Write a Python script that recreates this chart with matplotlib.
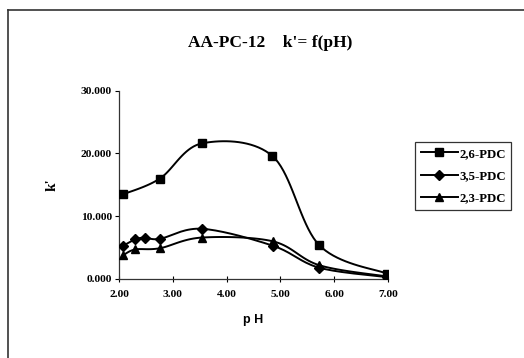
import matplotlib
matplotlib.use('Agg')
import matplotlib.pyplot as plt
import numpy as np
from matplotlib.lines import Line2D

# data
ph_26 = [2.08, 2.76, 3.54, 4.85, 5.72, 6.98]
k_26 = [13.5, 16.0, 21.6, 19.6, 5.4, 0.85]

ph_35 = [2.08, 2.30, 2.48, 2.76, 3.54, 4.86, 5.72, 6.98]
k_35 = [5.3, 6.3, 6.6, 6.4, 8.0, 5.3, 1.8, 0.3]

ph_23 = [2.08, 2.30, 2.76, 3.54, 4.86, 5.72, 6.98]
k_23 = [3.8, 4.7, 4.9, 6.6, 6.0, 2.2, 0.4]

labels = ['2,6-PDC', '3,5-PDC', '2,3-PDC']
markers = ['s', 'D', '^']
msizes = [5.5, 4.6, 5.5]

serif = 'Liberation Serif'
sans = 'Liberation Sans'


def smooth(x, y, n=20):
    # Catmull-Rom spline through the points (like Excel's smoothed line)
    x = np.asarray(x, float)
    y = np.asarray(y, float)
    px = np.concatenate([[x[0]], x, [x[-1]]])
    py = np.concatenate([[y[0]], y, [y[-1]]])
    t = np.linspace(0, 1, n)
    xs, ys = [], []
    for i in range(1, len(px) - 2):
        for p, out in ((px, xs), (py, ys)):
            p0, p1, p2, p3 = p[i - 1], p[i], p[i + 1], p[i + 2]
            out.extend(0.5 * (2 * p1 + (-p0 + p2) * t
                              + (2 * p0 - 5 * p1 + 4 * p2 - p3) * t ** 2
                              + (-p0 + 3 * p1 - 3 * p2 + p3) * t ** 3))
    return np.array(xs), np.array(ys)


fig = plt.figure(figsize=(5.24, 3.58), dpi=100)
ax = fig.add_axes([0.2271, 0.2207, 0.5134, 0.526])

handles = []
for (x, y), lab, m, ms in zip([(ph_26, k_26), (ph_35, k_35), (ph_23, k_23)],
                              labels, markers, msizes):
    sx, sy = smooth(x, y)
    ax.plot(sx, sy, color='black', lw=1.4, zorder=2)
    ax.plot(x, y, ls='none', marker=m, ms=ms, color='black', zorder=3)
    handles.append(Line2D([], [], color='black', lw=1.4, marker=m, ms=ms, label=lab))

ax.set_xlim(2.0, 7.0)
ax.set_ylim(0, 30)
ax.set_xticks([2, 3, 4, 5, 6, 7])
ax.set_yticks([0, 10, 20, 30])
ax.set_xticklabels(['2.00', '3.00', '4.00', '5.00', '6.00', '7.00'])
ax.set_yticklabels(['0.000', '10.000', '20.000', '30.000'])
for lbl in ax.get_xticklabels() + ax.get_yticklabels():
    lbl.set_fontfamily(serif)
    lbl.set_fontweight('bold')
    lbl.set_fontsize(8.2)
ax.tick_params(axis='x', direction='inout', length=4, width=0.8, pad=6)
ax.tick_params(axis='y', direction='out', length=3, width=0.8, pad=2)
ax.spines['top'].set_visible(False)
ax.spines['right'].set_visible(False)
for s in ('left', 'bottom'):
    ax.spines[s].set_linewidth(0.9)
    ax.spines[s].set_color('#333333')

ax.set_xlabel('p H', fontfamily=sans, fontweight='bold', fontsize=9, labelpad=11)
ax.set_ylabel("k'", fontfamily=serif, fontweight='bold', fontsize=11, labelpad=16)

fig.text(0.515, 0.88, "AA-PC-12    k'= f(pH)", ha='center', va='center',
         fontfamily=serif, fontweight='bold', fontsize=12.5)

leg = fig.legend(handles=handles, loc='center left', bbox_to_anchor=(0.792, 0.508),
                 frameon=True, fancybox=False, edgecolor='black', handlelength=2.9,
                 handletextpad=0.1, borderpad=0.45, labelspacing=0.8, borderaxespad=0,
                 prop={'family': serif, 'weight': 'bold', 'size': 9.2})
leg.get_frame().set_linewidth(0.9)

# outer chart frame (top and left edges visible)
fig.add_artist(Line2D([8 / 524, 1.0], [1 - 10 / 358] * 2, color='#333333', lw=1.2))
fig.add_artist(Line2D([8 / 524] * 2, [0, 1 - 10 / 358], color='#333333', lw=1.2))

fig.savefig('out.png', dpi=100)
